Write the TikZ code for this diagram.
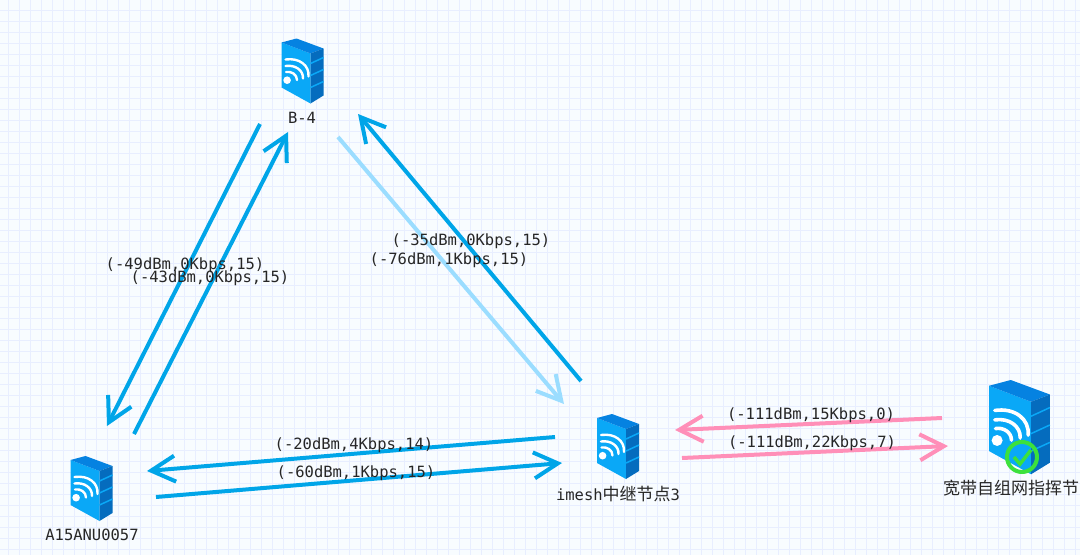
\documentclass[tikz,border=0pt]{standalone}
\usepackage{fontspec}
\setmonofont{DejaVu Sans Mono}
\newfontfamily\cjkfont{Noto Sans CJK SC}
\usetikzlibrary{positioning, arrows.meta}
\definecolor{PageTint}{RGB}{248, 252, 255}
\definecolor{GridTint}{RGB}{232, 238, 255}
\definecolor{LinkBlue}{RGB}{0, 165, 232}
\definecolor{LinkPale}{RGB}{155, 221, 255}
\definecolor{LinkPink}{RGB}{255, 143, 184}
\definecolor{FaceLeft}{RGB}{10, 168, 247}
\definecolor{FaceTop}{RGB}{5, 130, 225}
\definecolor{FaceRight}{RGB}{5, 108, 190}
\definecolor{BadgeGreen}{RGB}{60, 225, 60}
\newcommand{\cjksize}{\cjkfont\fontsize{17}{17}\selectfont}
\tikzset{
  link/.style={-{Straight Barb[length=24pt, width=26pt]}, line width=4pt},
  linklabel/.style={font=\ttfamily\fontsize{15.5}{15.5}\selectfont, text=black!85, inner sep=0pt},
  hostlabel/.style={font=\ttfamily\fontsize{15.5}{15.5}\selectfont, text=black!85, inner sep=0pt},
  wifi/.style={draw=white, line width=2.4pt, line cap=round},
  server/.pic={
    \fill[FaceLeft] (0,4) -- (29,15) -- (29,65) -- (0,49) -- cycle;
    \fill[FaceTop] (0,4) -- (15,0) -- (42,10) -- (29,15) -- cycle;
    \fill[FaceRight] (29,15) -- (42,10) -- (42,57) -- (29,65) -- cycle;
    \draw[FaceLeft, line width=1.5pt] (29,25) -- (42,19);
    \draw[FaceLeft, line width=1.5pt] (29,37) -- (42,31);
    \draw[FaceLeft, line width=1.5pt] (29,49) -- (42,43);
    \draw[wifi] (4,21) .. controls (18,19) and (28,27) .. (27,38);
    \draw[wifi] (4,27.5) .. controls (14,26) and (22,32) .. (21.5,40);
    \draw[wifi] (4.5,33.5) .. controls (10,32.5) and (15.5,36) .. (15.5,41.5);
    \fill[white] (5.6,41.7) circle (3.8);
  }
}
\begin{document}
\begin{tikzpicture}[x=1pt, y=-1pt]
\useasboundingbox (0,0) rectangle (1080,555);
\fill[PageTint] (0,0) rectangle (1080,555);
\draw[GridTint, line width=1pt, step=11pt, shift={(8,10)}] (-8,-10) grid (1072,545);

% hosts
\pic at (281.5,38.5) {server};
\pic at (70.5,456) {server};
\pic at (597,414) {server};
\pic[scale=1.45, wifi/.append style={line width=3.6pt}] at (989,380) {server};
\node (badge) [circle, draw=BadgeGreen, line width=4pt, minimum size=30pt, inner sep=0pt] at (1022,457) {};
\coordinate (tickstart) at (1014,457);
\coordinate (tickmid) at (1020,464);
\coordinate (tickend) at (1031,450);
\draw[BadgeGreen, line width=3.5pt] (tickstart) -- (tickmid) -- (tickend);

\node (bfour) [hostlabel] at (302,118) {B-4};
\node (aunit) [hostlabel] at (92,535) {A15ANU0057};
\node (relay) [hostlabel] at (618,494) {imesh{\cjksize 中继节点}3};
\node (command) [hostlabel, font=\cjksize] at (1011,488) {宽带自组网指挥节};

% link ends
\coordinate (bout) at (260,124);
\coordinate (ain) at (107,426);
\coordinate (aout) at (134,434);
\coordinate (bin) at (288,132);
\coordinate (bpale) at (338,137);
\coordinate (rpale) at (564,404);
\coordinate (rup) at (581,381);
\coordinate (bup) at (358,114);
\coordinate (rleft) at (555,437);
\coordinate (aleft) at (147,471);
\coordinate (aright) at (156,497);
\coordinate (rright) at (562,463);
\coordinate (cleft) at (942,418);
\coordinate (rpink) at (675,430);
\coordinate (routpink) at (682,458);
\coordinate (cright) at (948,446);

\draw[link, LinkBlue] (bout) -- (ain);
\draw[link, LinkBlue] (aout) -- (bin);
\draw[link, LinkPale] (bpale) -- (rpale);
\draw[link, LinkBlue] (rup) -- (bup);
\draw[link, LinkBlue] (rleft) -- (aleft);
\draw[link, LinkBlue] (aright) -- (rright);
\draw[link, LinkPink] (cleft) -- (rpink);
\draw[link, LinkPink] (routpink) -- (cright);

\node (ba) [linklabel] at (185,265) {(-49dBm,0Kbps,15)};
\node (ab) [linklabel] at (210,278) {(-43dBm,0Kbps,15)};
\node (rb) [linklabel] at (471,241) {(-35dBm,0Kbps,15)};
\node (br) [linklabel] at (449,260) {(-76dBm,1Kbps,15)};
\node (ra) [linklabel] at (354,445) {(-20dBm,4Kbps,14)};
\node (ar) [linklabel] at (356,473) {(-60dBm,1Kbps,15)};
\node (cr) [linklabel] at (811,415) {(-111dBm,15Kbps,0)};
\node (rc) [linklabel] at (812,443) {(-111dBm,22Kbps,7)};
\end{tikzpicture}
\end{document}
